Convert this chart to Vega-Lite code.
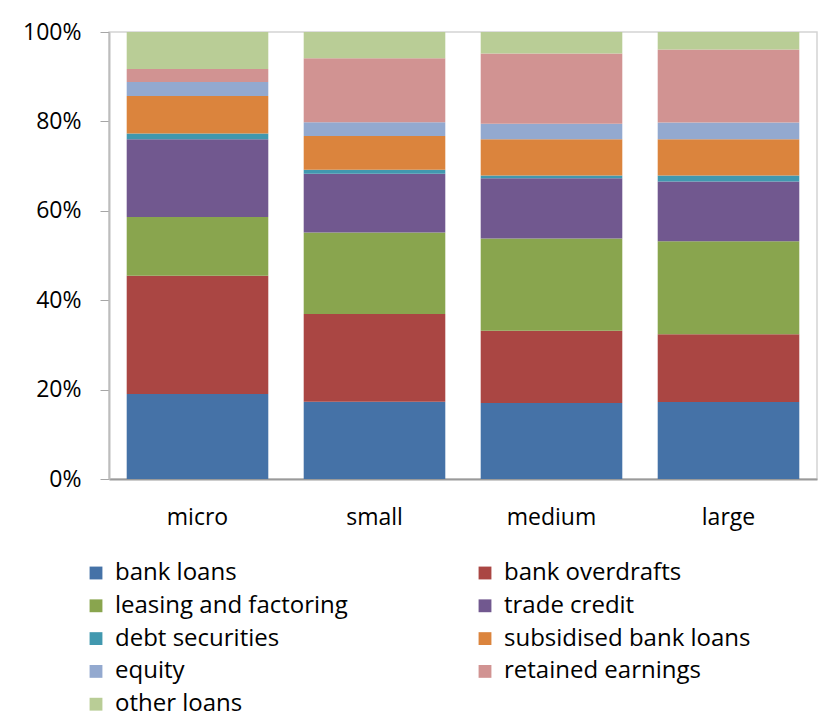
{
  "$schema": "https://vega.github.io/schema/vega-lite/v6.json",
  "width": 708,
  "height": 447,
  "autosize": {"type": "none"},
  "padding": {"left": 109, "top": 32, "right": 6, "bottom": 235},
  "background": "white",
  "config": {
    "font": "Open Sans",
    "view": {"stroke": "#d4d4d4", "strokeWidth": 1.5},
    "axis": {"labelFont": "Open Sans", "labelColor": "#000000", "grid": false, "title": null}
  },
  "data": {
    "values": [
      {"size": "micro", "source": "bank loans", "k": 1, "share": 19.0},
      {"size": "micro", "source": "bank overdrafts", "k": 2, "share": 26.45},
      {"size": "micro", "source": "leasing and factoring", "k": 3, "share": 13.15},
      {"size": "micro", "source": "trade credit", "k": 4, "share": 17.4},
      {"size": "micro", "source": "debt securities", "k": 5, "share": 1.3},
      {"size": "micro", "source": "subsidised bank loans", "k": 6, "share": 8.4},
      {"size": "micro", "source": "equity", "k": 7, "share": 3.1},
      {"size": "micro", "source": "retained earnings", "k": 8, "share": 2.9},
      {"size": "micro", "source": "other loans", "k": 9, "share": 8.3},
      {"size": "small", "source": "bank loans", "k": 1, "share": 17.3},
      {"size": "small", "source": "bank overdrafts", "k": 2, "share": 19.6},
      {"size": "small", "source": "leasing and factoring", "k": 3, "share": 18.25},
      {"size": "small", "source": "trade credit", "k": 4, "share": 13.15},
      {"size": "small", "source": "debt securities", "k": 5, "share": 0.9},
      {"size": "small", "source": "subsidised bank loans", "k": 6, "share": 7.55},
      {"size": "small", "source": "equity", "k": 7, "share": 3.05},
      {"size": "small", "source": "retained earnings", "k": 8, "share": 14.3},
      {"size": "small", "source": "other loans", "k": 9, "share": 5.9},
      {"size": "medium", "source": "bank loans", "k": 1, "share": 17.0},
      {"size": "medium", "source": "bank overdrafts", "k": 2, "share": 16.15},
      {"size": "medium", "source": "leasing and factoring", "k": 3, "share": 20.65},
      {"size": "medium", "source": "trade credit", "k": 4, "share": 13.5},
      {"size": "medium", "source": "debt securities", "k": 5, "share": 0.6},
      {"size": "medium", "source": "subsidised bank loans", "k": 6, "share": 8.1},
      {"size": "medium", "source": "equity", "k": 7, "share": 3.5},
      {"size": "medium", "source": "retained earnings", "k": 8, "share": 15.7},
      {"size": "medium", "source": "other loans", "k": 9, "share": 4.8},
      {"size": "large", "source": "bank loans", "k": 1, "share": 17.2},
      {"size": "large", "source": "bank overdrafts", "k": 2, "share": 15.2},
      {"size": "large", "source": "leasing and factoring", "k": 3, "share": 20.8},
      {"size": "large", "source": "trade credit", "k": 4, "share": 13.35},
      {"size": "large", "source": "debt securities", "k": 5, "share": 1.35},
      {"size": "large", "source": "subsidised bank loans", "k": 6, "share": 8.1},
      {"size": "large", "source": "equity", "k": 7, "share": 3.75},
      {"size": "large", "source": "retained earnings", "k": 8, "share": 16.35},
      {"size": "large", "source": "other loans", "k": 9, "share": 3.9}
    ]
  },
  "mark": {"type": "bar"},
  "encoding": {
    "x": {
      "field": "size",
      "type": "nominal",
      "sort": ["micro", "small", "medium", "large"],
      "scale": {"paddingInner": 0.2, "paddingOuter": 0.1},
      "axis": {
        "labelAngle": 0,
        "labelFontSize": 23,
        "ticks": false,
        "labelPadding": 27,
        "domainColor": "#9a9a9a",
        "domainWidth": 2
      }
    },
    "y": {
      "field": "share",
      "type": "quantitative",
      "stack": "normalize",
      "scale": {"domain": [0, 1]},
      "axis": {
        "values": [0, 0.2, 0.4, 0.6, 0.8, 1],
        "format": ".0%",
        "labelFontSize": 23,
        "tickSize": 9,
        "tickColor": "#a6a6a6",
        "domainColor": "#bdbdbd",
        "domainWidth": 2,
        "labelPadding": 19
      }
    },
    "order": {"field": "k", "type": "quantitative", "sort": "ascending"},
    "color": {
      "field": "source",
      "type": "nominal",
      "scale": {
        "domain": ["bank loans", "bank overdrafts", "leasing and factoring", "trade credit", "debt securities", "subsidised bank loans", "equity", "retained earnings", "other loans"],
        "range": ["#4572A7", "#AA4643", "#89A54E", "#71588F", "#4198AF", "#DB843D", "#93A9CF", "#D19392", "#B9CD96"]
      },
      "legend": {
        "title": null,
        "orient": "none",
        "direction": "horizontal",
        "legendX": -25,
        "legendY": 529,
        "columns": 2,
        "columnPadding": 125,
        "rowPadding": 8.8,
        "padding": 0,
        "symbolType": "square",
        "symbolSize": 165,
        "symbolStrokeWidth": 0,
        "labelFontSize": 24,
        "labelFont": "Open Sans",
        "labelColor": "#000000",
        "labelOffset": 7,
        "labelLimit": 400
      }
    }
  }
}
